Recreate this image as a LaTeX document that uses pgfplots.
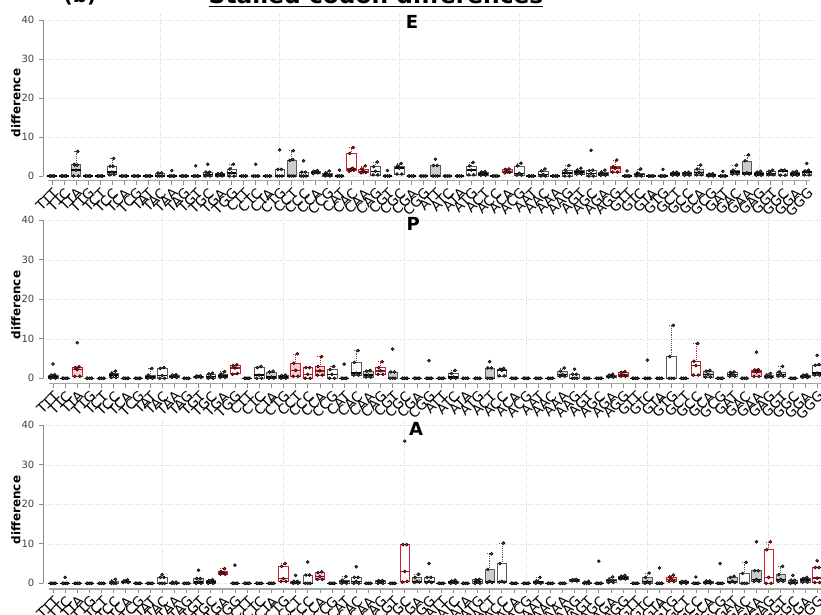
\documentclass[border=0pt]{standalone}
\usepackage{pgfplots}
\pgfplotsset{compat=1.18}
\usepgfplotslibrary{statistics}
\usepackage{fontspec}
\setmainfont{DejaVu Sans}
\definecolor{myred}{RGB}{214,28,43}
\pgfplotsset{
  bw/.style={draw=black!65, fill=white, /pgfplots/boxplot/every median/.style={draw=black, line width=1.1pt}},
  bg/.style={draw=black!65, fill=black!20, /pgfplots/boxplot/every median/.style={draw=black, line width=1.1pt}},
  br/.style={draw=myred, fill=white, /pgfplots/boxplot/every median/.style={draw=myred!75!black, line width=1.1pt}},
  brf/.style={draw=myred, fill=myred!22, /pgfplots/boxplot/every median/.style={draw=myred!75!black, line width=1.1pt}},
  bw pts/.style={only marks, mark=*, mark size=1.1pt, mark options={draw=none, fill=black!70}},
  bg pts/.style={only marks, mark=*, mark size=1.1pt, mark options={draw=none, fill=black!70}},
  br pts/.style={only marks, mark=*, mark size=1.1pt, mark options={draw=none, fill=myred}},
  brf pts/.style={only marks, mark=*, mark size=1.1pt, mark options={draw=none, fill=myred}},
  panel/.style={
    scale only axis,
    separate axis lines, axis x line*=bottom, axis y line*=left,
    axis line style={draw=none},
    xtick={1,...,64},
    xticklabels={TTT,TTC,TTA,TTG,TCT,TCC,TCA,TCG,TAT,TAC,TAA,TAG,TGT,TGC,TGA,TGG,
      CTT,CTC,CTA,CTG,CCT,CCC,CCA,CCG,CAT,CAC,CAA,CAG,CGT,CGC,CGA,CGG,
      ATT,ATC,ATA,ATG,ACT,ACC,ACA,ACG,AAT,AAC,AAA,AAG,AGT,AGC,AGA,AGG,
      GTT,GTC,GTA,GTG,GCT,GCC,GCA,GCG,GAT,GAC,GAA,GAG,GGT,GGC,GGA,GGG},
    ytick={0,10,20,30,40},
    ymajorgrids,
    extra x ticks={10,20,30,40,50,60}, extra x tick labels={},
    extra x tick style={grid=major, major tick length=0pt},
    grid style={black!12, line width=0.4pt, dash pattern=on 1pt off 1pt},
    tick align=outside, major tick length=3pt,
    tick style={black!45, line width=0.5pt},
    xticklabel style={rotate=45, anchor=north east, font=\fontsize{10.3}{12}\selectfont, inner sep=1pt},
    yticklabel style={font=\fontsize{7.5}{9}\selectfont, text=black!75},
    /pgf/number format/assume math mode=true,
    boxplot/draw direction=y,
    boxplot/box extend=0.8, boxplot/whisker extend=0.4,
    boxplot/every whisker/.style={densely dotted, fill=none},
  }
}
\newcommand{\bx}[8]{%
  \addplot[#7, boxplot prepared={draw position=#1, lower whisker=#2, lower quartile=#3, median=#4, upper quartile=#5, upper whisker=#6}] coordinates {};
  \addplot[#7 pts] table[row sep=\\, x expr=#1+\thisrow{d}, y=v]{d v\\ -0.2 #2\\ 0.2 #3\\ 0 #4\\ -0.15 #5\\ 0.15 #6\\ #8};
}
\newcommand{\bz}[2]{\bx{#1}{0}{0}{0}{0}{0}{bw}{#2}}
\begin{document}
\begin{tikzpicture}
% ---------------- E ----------------
\begin{axis}[panel, at={(32.25pt,324.75pt)}, anchor=south west, width=579pt, height=125.1pt,
  xmin=0.249, xmax=64.69, ymin=-1.28, ymax=41.5]
\bz{1}{}
\bz{2}{}
\bx{3}{0}{0}{1.5}{3.0}{6.3}{bg}{0.1 2.8\\ -0.1 2.8\\}
\bz{4}{}
\bz{5}{}
\bx{6}{0.3}{0.4}{1.0}{2.5}{4.5}{bw}{0.1 2.5\\}
\bz{7}{}
\bz{8}{}
\bz{9}{}
\bx{10}{0}{0}{0}{0.8}{0.8}{bw}{}
\bz{11}{0 1.4\\}
\bz{12}{}
\bz{13}{0 2.6\\}
\bx{14}{0}{0}{0.4}{1.0}{1.0}{bw}{0 3.0\\}
\bx{15}{0}{0}{0.3}{0.6}{0.7}{bg}{}
\bx{16}{0}{0}{0.8}{1.8}{3.0}{bw}{}
\bz{17}{}
\bz{18}{0 3.0\\}
\bz{19}{}
\bx{20}{0}{0}{0}{1.7}{1.7}{bw}{0 6.7\\}
\bx{21}{0}{0}{0}{4.0}{6.5}{bg}{0.1 4.2\\}
\bx{22}{0}{0}{0}{1.0}{1.0}{bw}{0 3.9\\}
\bx{23}{0.6}{0.8}{0.9}{1.2}{1.4}{bg}{}
\bx{24}{0}{0}{0.3}{0.8}{1.3}{bw}{}
\bz{25}{0 1.5\\}
\bx{26}{1.2}{1.5}{1.8}{5.8}{7.3}{br}{0.1 2.0\\}
\bx{27}{0.8}{0.9}{1.2}{1.8}{2.6}{brf}{}
\bx{28}{0.3}{0.3}{1.2}{2.4}{3.6}{bw}{}
\bz{29}{0 1.4\\}
\bx{30}{0.5}{0.5}{2.0}{2.6}{3.2}{bw}{}
\bz{31}{}
\bz{32}{}
\bx{33}{0}{0}{0}{2.7}{2.7}{bg}{0 4.3\\}
\bz{34}{}
\bz{35}{}
\bx{36}{0.3}{0.3}{1.5}{2.6}{3.5}{bw}{}
\bx{37}{0.2}{0.2}{0.5}{1.0}{1.1}{bg}{}
\bz{38}{}
\bx{39}{0.8}{0.9}{1.2}{1.7}{1.8}{brf}{}
\bx{40}{0.2}{0.2}{0.7}{2.6}{3.3}{bw}{}
\bz{41}{}
\bx{42}{0}{0}{0.4}{1.3}{1.8}{bw}{}
\bz{43}{}
\bx{44}{0}{0}{0.8}{1.5}{2.7}{bw}{}
\bx{45}{0.5}{0.5}{1.0}{1.5}{2.0}{bg}{}
\bx{46}{0}{0}{0.6}{1.4}{1.5}{bw}{0 6.6\\}
\bx{47}{0.2}{0.2}{0.5}{1.0}{1.5}{bw}{}
\bx{48}{1.0}{1.0}{2.0}{2.4}{4.1}{brf}{}
\bz{49}{0 1.3\\}
\bx{50}{0}{0}{0.4}{0.8}{1.8}{bw}{}
\bz{51}{}
\bz{52}{0 1.7\\}
\bx{53}{0.2}{0.2}{0.5}{0.9}{1.0}{bw}{}
\bx{54}{0.2}{0.2}{0.6}{0.9}{1.0}{bw}{}
\bx{55}{0.3}{0.3}{0.9}{1.8}{2.8}{bg}{}
\bx{56}{0}{0}{0.2}{0.5}{0.6}{bw}{}
\bz{57}{0 1.2\\}
\bx{58}{0.5}{0.5}{1.0}{1.5}{2.8}{bw}{}
\bx{59}{0.5}{0.5}{0.8}{3.9}{5.4}{bg}{}
\bx{60}{0.2}{0.2}{0.5}{1.0}{1.2}{bw}{}
\bx{61}{0.3}{0.3}{0.6}{1.2}{1.5}{bw}{}
\bx{62}{0.2}{0.2}{1.3}{1.5}{1.5}{bw}{}
\bx{63}{0.2}{0.2}{0.5}{1.0}{1.2}{bw}{}
\bx{64}{0.3}{0.3}{1.0}{1.3}{1.5}{bw}{0 3.2\\}
\draw[black!35, line width=0.9pt] (axis cs:0.7,-1.28) -- (axis cs:64.3,-1.28);
\draw[black!45] (axis cs:0.249,0) -- (axis cs:0.249,40);
\end{axis}
% ---------------- P ----------------
\begin{axis}[panel, at={(32.25pt,172.5pt)}, anchor=south west, width=590.25pt, height=127.5pt,
  xmin=0.176, xmax=65.06, ymin=-1.45, ymax=41.6]
\bx{1}{0}{0}{0.3}{0.8}{0.9}{bg}{0 3.6\\}
\bz{2}{}
\bx{3}{0.5}{0.5}{2.2}{2.7}{2.9}{brf}{0 9.0\\}
\bz{4}{}
\bz{5}{}
\bx{6}{0.2}{0.2}{0.8}{1.3}{1.8}{bw}{}
\bz{7}{}
\bz{8}{}
\bx{9}{0}{0}{0.3}{0.8}{2.5}{bw}{}
\bx{10}{0}{0}{0.7}{2.5}{2.7}{bw}{}
\bx{11}{0.2}{0.2}{0.5}{0.8}{0.9}{bg}{}
\bz{12}{}
\bx{13}{0.2}{0.2}{0.4}{0.6}{0.6}{bw}{}
\bx{14}{0}{0}{0.4}{1.1}{1.3}{bw}{}
\bx{15}{0.2}{0.2}{0.6}{1.1}{1.7}{bg}{}
\bx{16}{1.0}{1.2}{2.6}{3.2}{3.4}{br}{}
\bz{17}{}
\bx{18}{0}{0}{0.8}{2.7}{3.0}{bw}{}
\bx{19}{0}{0}{0.3}{1.6}{1.8}{bg}{}
\bx{20}{0}{0}{0.3}{0.7}{0.8}{bw}{}
\bx{21}{0.5}{0.5}{2.0}{3.8}{6.2}{brf}{}
\bx{22}{0}{0}{1.0}{2.7}{2.7}{br}{}
\bx{23}{0.8}{0.8}{1.9}{3.0}{5.5}{brf}{}
\bx{24}{0}{0}{1.0}{2.2}{3.0}{bw}{}
\bz{25}{0 3.6\\}
\bx{26}{0.8}{0.8}{1.3}{4.0}{7.0}{bw}{}
\bx{27}{0.3}{0.3}{0.8}{1.8}{2.0}{bg}{}
\bx{28}{1.0}{1.0}{1.9}{2.7}{4.2}{br}{}
\bx{29}{0}{0}{0}{1.6}{1.6}{bg}{0 7.4\\}
\bz{30}{}
\bz{31}{}
\bz{32}{0 4.45\\}
\bz{33}{}
\bx{34}{0}{0}{0.3}{1.2}{2.0}{bw}{}
\bz{35}{}
\bz{36}{}
\bx{37}{0}{0}{0}{2.6}{2.6}{bg}{0 4.2\\}
\bx{38}{0.6}{0.6}{2.0}{2.3}{2.5}{bw}{}
\bz{39}{}
\bz{40}{}
\bz{41}{}
\bz{42}{}
\bx{43}{0.5}{0.5}{0.9}{1.8}{2.6}{bg}{}
\bx{44}{0}{0}{0}{1.0}{1.0}{bw}{0 2.3\\}
\bz{45}{}
\bz{46}{}
\bx{47}{0.3}{0.3}{0.5}{0.8}{1.0}{bw}{}
\bx{48}{0.5}{0.5}{0.8}{1.5}{1.7}{brf}{}
\bz{49}{}
\bz{50}{0 4.6\\}
\bz{51}{}
\bx{52}{0}{0}{0}{5.5}{13.4}{bw}{}
\bz{53}{}
\bx{54}{0.8}{0.8}{3.2}{4.3}{8.8}{br}{}
\bx{55}{0.3}{0.3}{1.0}{1.8}{2.0}{bg}{}
\bz{56}{}
\bx{57}{0.5}{0.5}{1.0}{1.5}{1.6}{bw}{}
\bz{58}{}
\bx{59}{0.5}{0.5}{1.6}{2.1}{2.2}{brf}{0 6.6\\}
\bx{60}{0.2}{0.2}{0.5}{0.8}{1.2}{bw}{}
\bx{61}{0.5}{0.5}{1.0}{1.6}{3.0}{bw}{}
\bz{62}{}
\bx{63}{0.2}{0.2}{0.5}{0.8}{0.9}{bw}{}
\bx{64}{0.8}{0.8}{1.3}{3.3}{3.5}{bw}{0 5.8\\}
\draw[black!35, line width=0.9pt] (axis cs:0.7,-1.45) -- (axis cs:64.4,-1.45);
\draw[black!45] (axis cs:0.176,0) -- (axis cs:0.176,40);
\end{axis}
% ---------------- A ----------------
\begin{axis}[panel, at={(32.25pt,18.75pt)}, anchor=south west, width=590.25pt, height=127.5pt,
  xmin=0.176, xmax=65.06, ymin=-1.44, ymax=41.6]
\bz{1}{}
\bz{2}{0 1.5\\}
\bz{3}{}
\bz{4}{}
\bz{5}{}
\bx{6}{0}{0}{0}{0.5}{1.0}{bw}{}
\bx{7}{0.2}{0.2}{0.4}{0.6}{0.9}{bw}{}
\bz{8}{}
\bz{9}{}
\bx{10}{0}{0}{0}{1.5}{1.5}{bw}{0 2.2\\}
\bx{11}{0}{0}{0}{0.3}{0.3}{bw}{}
\bz{12}{}
\bx{13}{0}{0}{0.3}{1.2}{1.2}{bg}{0 3.3\\}
\bx{14}{0}{0}{0.3}{0.7}{0.9}{bg}{}
\bx{15}{2.3}{2.3}{2.7}{3.0}{3.7}{brf}{}
\bz{16}{0 4.6\\}
\bz{17}{}
\bz{18}{}
\bz{19}{}
\bx{20}{0.5}{0.5}{1.2}{4.3}{5.0}{br}{}
\bx{21}{0}{0}{0.2}{0.5}{0.5}{bw}{0 2.0\\}
\bx{22}{0}{0}{0}{2.1}{2.1}{bw}{0 5.4\\}
\bx{23}{1.0}{1.0}{1.7}{2.7}{2.9}{brf}{}
\bz{24}{}
\bx{25}{0}{0}{0.4}{0.8}{1.7}{bw}{}
\bx{26}{0}{0}{0.5}{1.5}{1.5}{bw}{0 4.2\\}
\bz{27}{}
\bx{28}{0}{0}{0.4}{0.7}{0.7}{bw}{}
\bz{29}{}
\bx{30}{0.3}{0.5}{3.0}{9.8}{9.8}{br}{0 36.0\\}
\bx{31}{0.2}{0.3}{0.5}{1.5}{2.3}{bg}{}
\bx{32}{0.2}{0.2}{0.5}{1.5}{1.5}{bw}{0 5.0\\}
\bz{33}{}
\bx{34}{0}{0}{0.3}{0.6}{0.8}{bw}{}
\bz{35}{}
\bx{36}{0}{0}{0.4}{0.9}{1.0}{bw}{}
\bx{37}{0.2}{0.2}{0.5}{3.5}{7.5}{bg}{}
\bx{38}{0.3}{0.3}{0.5}{5.0}{10.2}{bw}{}
\bz{39}{}
\bz{40}{}
\bx{41}{0}{0}{0.3}{0.6}{1.5}{bw}{}
\bz{42}{}
\bz{43}{}
\bx{44}{0.6}{0.6}{0.8}{0.9}{1.0}{bw}{}
\bx{45}{0}{0}{0}{0.3}{0.5}{bw}{}
\bz{46}{0 5.6\\}
\bx{47}{0.2}{0.2}{0.7}{1.0}{1.6}{bg}{}
\bx{48}{1.1}{1.1}{1.4}{1.8}{2.0}{bg}{}
\bz{49}{}
\bx{50}{0}{0}{0.4}{1.5}{2.6}{bg}{}
\bz{51}{0 3.9\\}
\bx{52}{0.5}{0.5}{1.0}{1.6}{2.1}{brf}{}
\bx{53}{0}{0}{0.3}{0.5}{0.5}{bw}{}
\bz{54}{0 1.6\\}
\bx{55}{0}{0}{0.2}{0.6}{0.6}{bw}{}
\bz{56}{0 5.0\\}
\bx{57}{0.2}{0.2}{0.5}{1.5}{1.8}{bg}{}
\bx{58}{0}{0}{0}{2.5}{5.3}{bw}{}
\bx{59}{0.5}{0.5}{1.0}{3.2}{3.2}{bg}{0 10.5\\}
\bx{60}{0}{0}{1.5}{8.5}{10.5}{br}{}
\bx{61}{0.5}{0.5}{1.0}{2.2}{4.3}{bg}{}
\bx{62}{0}{0}{0.2}{0.8}{0.8}{bg}{0 2.0\\}
\bx{63}{0.3}{0.3}{0.8}{1.2}{1.5}{bw}{}
\bx{64}{0.2}{0.2}{1.3}{4.0}{4.0}{br}{0 5.7\\}
\draw[black!35, line width=0.9pt] (axis cs:0.7,-1.44) -- (axis cs:64.4,-1.44);
\draw[black!45] (axis cs:0.176,0) -- (axis cs:0.176,40);
\end{axis}
% ---------------- texts ----------------
\node[anchor=base, font=\bfseries\fontsize{17.5}{20}\selectfont] at (282pt,457.5pt) {\underline{Stalled codon differences}};
\node[anchor=base, font=\bfseries\fontsize{15}{18}\selectfont] at (60pt,458.25pt) {(b)};
\node[font=\bfseries\fontsize{13.5}{15}\selectfont] at (309pt,444pt) {E};
\node[font=\bfseries\fontsize{13.5}{15}\selectfont] at (310pt,292.5pt) {P};
\node[font=\bfseries\fontsize{13.5}{15}\selectfont] at (312pt,138.75pt) {A};
\node[rotate=90, font=\bfseries\fontsize{9}{11}\selectfont] at (12pt,383.25pt) {difference};
\node[rotate=90, font=\bfseries\fontsize{9}{11}\selectfont] at (12pt,231.75pt) {difference};
\node[rotate=90, font=\bfseries\fontsize{9}{11}\selectfont] at (12pt,78pt) {difference};
\pgfresetboundingbox
\path[use as bounding box] (0,0) rectangle (615.75pt,460.5pt);
\end{tikzpicture}
\end{document}
